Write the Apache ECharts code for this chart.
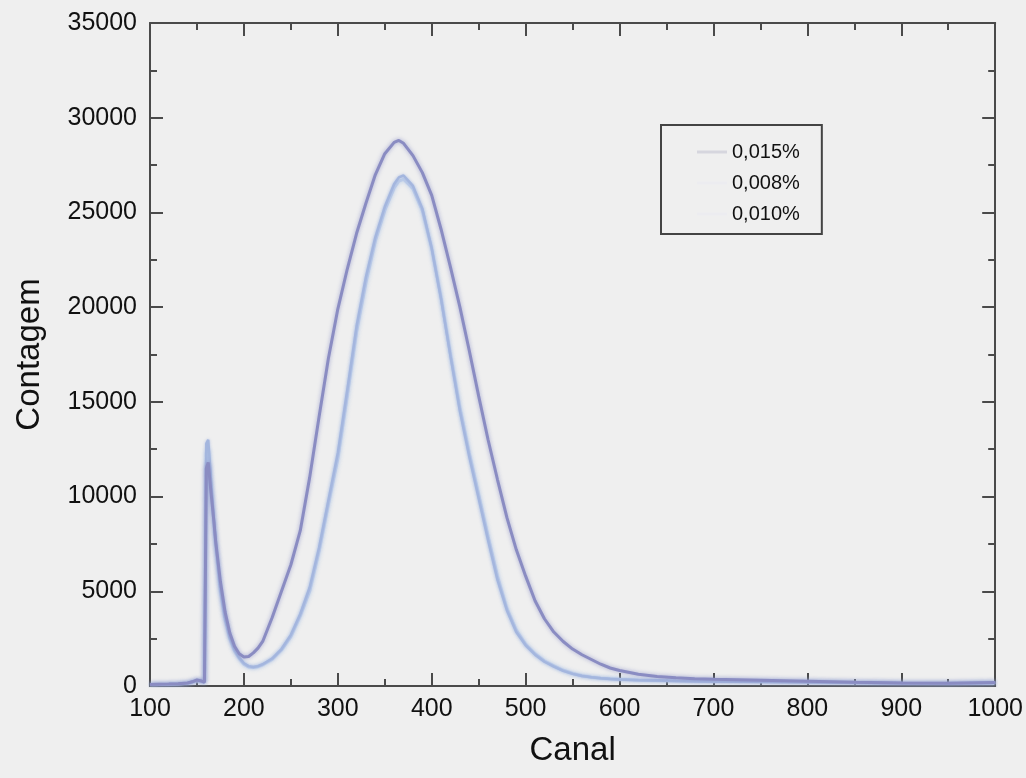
<!DOCTYPE html>
<html>
<head>
<meta charset="utf-8">
<script src="https://cdn.jsdelivr.net/npm/echarts@6/dist/echarts.min.js"></script>
<style>
html,body{margin:0;padding:0;background:#efefef;}
#chart{width:1026px;height:778px;}
</style>
</head>
<body>
<div id="chart"></div>
<script>
var channels = [100,110,120,130,140,145,150,155,158,160,162,165,168,170,175,180,185,190,195,200,205,210,215,220,230,240,250,260,270,280,290,300,310,320,330,340,350,360,365,370,380,390,400,410,420,430,440,450,460,470,480,490,500,510,520,530,540,550,560,570,580,590,600,620,640,660,680,700,750,800,850,900,950,1000];

var s015 = [80,90,100,120,160,220,320,260,200,11500,11800,10200,8700,7600,5500,3900,2800,2100,1700,1530,1560,1750,2000,2350,3600,5000,6400,8200,11000,14200,17300,19900,22000,23900,25500,27000,28100,28700,28800,28650,28000,27100,25900,24100,22100,20000,17700,15300,13000,10900,8900,7200,5800,4500,3550,2850,2350,1950,1650,1400,1150,950,820,620,500,430,380,350,300,250,200,160,150,180];

var s008 = [80,90,100,120,160,220,300,250,200,12800,13000,10800,8800,7600,5200,3600,2600,1950,1500,1200,1050,1000,1050,1150,1450,1950,2700,3800,5200,7300,9800,12300,15600,19000,21600,23700,25300,26500,26850,26950,26400,25200,23100,20400,17400,14500,12100,9900,7700,5600,4000,2850,2150,1650,1280,1020,800,640,530,460,410,375,345,305,285,265,252,242,222,202,172,142,132,162];

var s010 = [70,80,90,110,150,200,280,230,180,12300,12500,10500,8600,7400,5000,3500,2500,1850,1450,1150,1000,980,1020,1120,1400,1900,2600,3700,5000,7100,9600,12000,15300,18700,21300,23500,25100,26300,26650,26750,26250,25100,23100,20500,17500,14700,12300,10100,7900,5800,4100,2950,2200,1700,1320,1060,830,660,545,465,415,385,350,312,292,272,257,247,227,207,177,147,137,167];

var seriesNames = ['0,015%','0,008%','0,010%'];
var xTicks = [100,200,300,400,500,600,700,800,900,1000];
var yTicks = [0,5000,10000,15000,20000,25000,30000,35000];

function pairs(vals){ return channels.map(function(c,i){ return [c, vals[i]]; }); }

var FONT = 'Liberation Sans, Arial, Helvetica, sans-serif';
var AX = '#4a4a4a';

function axisCommon(showLabel){
  return {
    axisLine:{show:true,onZero:false,lineStyle:{color:AX,width:2}},
    axisTick:{show:true,inside:true,length:13,lineStyle:{color:AX,width:2}},
    minorTick:{show:true,splitNumber:2,length:7,lineStyle:{color:AX,width:2}},
    splitLine:{show:false},
    axisLabel:{show:showLabel,color:'#111',fontSize:25,fontFamily:FONT}
  };
}

var chart = echarts.init(document.getElementById('chart'));
var xa = axisCommon(true);
var xb = axisCommon(false);
var ya = axisCommon(true);
var yb = axisCommon(false);

var option = {
  backgroundColor:'#efefef',
  animation:false,
  grid:{left:150,right:29,top:23,bottom:92},
  legend:{
    orient:'vertical',left:661,top:125,
    padding:[17,22,10,36],
    itemGap:11,itemWidth:30,itemHeight:3,
    borderColor:'#444',borderWidth:2,
    icon:'rect',
    textStyle:{fontSize:20,fontFamily:FONT,color:'#111'},
    data:[
      {name:seriesNames[0],itemStyle:{color:'#d6d6de'}},
      {name:seriesNames[1],itemStyle:{color:'#ececf0'}},
      {name:seriesNames[2],itemStyle:{color:'#ececf0'}}
    ]
  },
  xAxis:[
    Object.assign({type:'value',position:'bottom',min:100,max:1000,interval:100,
      name:'Canal',nameLocation:'middle',nameGap:48,
      nameTextStyle:{fontSize:33,fontFamily:FONT,color:'#111'}}, xa,
      {axisLabel:Object.assign({},xa.axisLabel,{margin:11,
        formatter:function(v){return xTicks.indexOf(v)>=0?String(v):'';}})}),
    Object.assign({type:'value',position:'top',min:100,max:1000,interval:100}, xb)
  ],
  yAxis:[
    Object.assign({type:'value',position:'left',min:0,max:35000,interval:5000,
      name:'Contagem',nameLocation:'middle',nameGap:104,nameRotate:90,
      nameTextStyle:{fontSize:33,fontFamily:FONT,color:'#111'}}, ya,
      {axisLabel:Object.assign({},ya.axisLabel,{margin:13,
        formatter:function(v){return yTicks.indexOf(v)>=0?String(v):'';}})}),
    Object.assign({type:'value',position:'right',min:0,max:35000,interval:5000}, yb)
  ],
  series:[
    {name:seriesNames[2],type:'line',data:pairs(s010),showSymbol:false,
      lineStyle:{color:'#bccce8',width:3,shadowBlur:4,shadowColor:'rgba(170,195,230,0.8)'},
      itemStyle:{color:'#bccce8'},z:2},
    {name:seriesNames[1],type:'line',data:pairs(s008),showSymbol:false,
      lineStyle:{color:'#a4b6de',width:2.5,shadowBlur:3,shadowColor:'rgba(160,180,225,0.8)'},
      itemStyle:{color:'#a4b6de'},z:3},
    {name:seriesNames[0],type:'line',data:pairs(s015),showSymbol:false,
      lineStyle:{color:'#8a8cc2',width:3,shadowBlur:4,shadowColor:'rgba(130,135,195,0.7)'},
      itemStyle:{color:'#8a8cc2'},z:4}
  ]
};
chart.setOption(option);
</script>
</body>
</html>
